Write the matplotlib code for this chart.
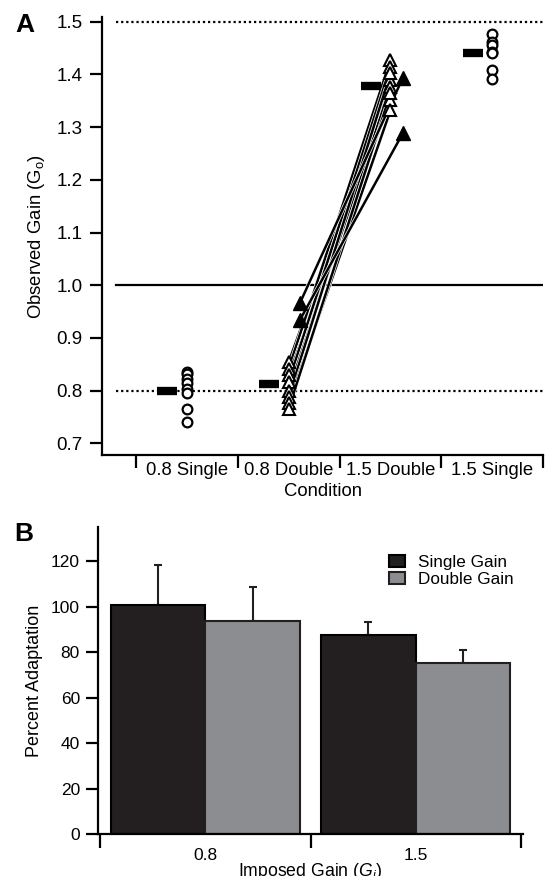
import numpy as np
import matplotlib
matplotlib.use('Agg')
import matplotlib.pyplot as plt
import matplotlib.patheffects as pe
from matplotlib.ticker import FixedLocator, NullFormatter

plt.rcParams['font.family'] = ['Liberation Sans', 'DejaVu Sans']
plt.rcParams['mathtext.fontset'] = 'custom'
plt.rcParams['mathtext.rm'] = 'Liberation Sans'
plt.rcParams['mathtext.it'] = 'Liberation Sans:italic'

# ---- panel A data ----
conditions = ['0.8 Single', '0.8 Double', '1.5 Double', '1.5 Single']
single08 = [0.835, 0.831, 0.823, 0.814, 0.804, 0.795, 0.765, 0.741]
single15 = [1.477, 1.462, 1.455, 1.443, 1.440, 1.408, 1.392]
# open triangles: 0.8 double -> 1.5 double, paired per subject
dbl08_open = [0.854, 0.842, 0.829, 0.817, 0.800, 0.788, 0.776, 0.766]
dbl15_open = [1.389, 1.427, 1.351, 1.414, 1.376, 1.402, 1.332, 1.364]
# filled triangles
dbl08_fill = [0.966, 0.934]
dbl15_fill = [1.393, 1.288]
cond_means = [0.799, 0.813, 1.378, 1.440]

# ---- panel B data ----
gains = ['0.8', '1.5']
single_pct = [100.8, 87.6]
single_err = [17.6, 5.8]
double_pct = [93.8, 75.3]
double_err = [14.8, 5.9]

fig = plt.figure(figsize=(5.6, 8.76), dpi=100)

# =================== A ===================
ax = fig.add_axes([0.182, 0.4806, 0.788, 0.5])
xpos = np.arange(len(conditions))
ax.set_xlim(-0.834, 3.5)
ax.set_ylim(0.678, 1.509)

ax.plot([-0.7, 3.5], [1.0, 1.0], color='black', lw=1.6, zorder=1)
ax.plot([-0.7, 3.5], [0.8, 0.8], color='black', lw=1.6, ls=(0, (1, 1.3)), zorder=1)
ax.plot([-0.7, 3.5], [1.5, 1.5], color='black', lw=1.6, ls=(0, (1, 1.3)), zorder=1)

# connecting lines
stroke = [pe.withStroke(linewidth=2.8, foreground='white')]
for a, b in zip(dbl08_open, dbl15_open):
    ax.plot([xpos[1], xpos[2]], [a, b], color='black', lw=1.8, zorder=2,
            path_effects=stroke)
for a, b in zip(dbl08_fill, dbl15_fill):
    ax.plot([xpos[1] + 0.11, xpos[2] + 0.12], [a, b], color='black', lw=1.8,
            zorder=2, path_effects=stroke)

ax.plot([xpos[0]] * len(single08), single08, 'o', mfc='white', mec='black',
        mew=1.6, ms=7, ls='none', zorder=4)
ax.plot([xpos[3]] * len(single15), single15, 'o', mfc='white', mec='black',
        mew=1.6, ms=7, ls='none', zorder=4)
ax.plot([xpos[1]] * len(dbl08_open), dbl08_open, '^', mfc='white', mec='black',
        mew=1.5, ms=8, ls='none', zorder=4)
ax.plot([xpos[2]] * len(dbl15_open), dbl15_open, '^', mfc='white', mec='black',
        mew=1.5, ms=8, ls='none', zorder=4)
ax.plot([xpos[1] + 0.11] * len(dbl08_fill), dbl08_fill, '^', color='black',
        ms=9.5, ls='none', zorder=4)
ax.plot([xpos[2] + 0.12] * len(dbl15_fill), dbl15_fill, '^', color='black',
        ms=9.5, ls='none', zorder=4)

# mean dashes
ax.hlines(cond_means, xpos - 0.29, xpos - 0.095, color='black', lw=6, zorder=3)

for s in ['top', 'right']:
    ax.spines[s].set_visible(False)
for s in ['left', 'bottom']:
    ax.spines[s].set_linewidth(1.6)
ax.set_yticks(np.arange(0.7, 1.51, 0.1))
ax.set_yticklabels(['%.1f' % v for v in np.arange(0.7, 1.51, 0.1)])
ax.tick_params(axis='y', length=9, width=1.6, pad=5, labelsize=13.5)
ax.xaxis.set_major_locator(FixedLocator([-0.5, 0.5, 1.5, 2.5, 3.5]))
ax.xaxis.set_major_formatter(NullFormatter())
ax.xaxis.set_minor_locator(FixedLocator(xpos))
ax.set_xticklabels(conditions, minor=True)
ax.tick_params(axis='x', which='major', length=9, width=1.6)
ax.tick_params(axis='x', which='minor', length=0, pad=5, labelsize=13.3)
ax.set_xlabel('Condition', fontsize=13.3, labelpad=3)
ax.set_ylabel(r'Observed Gain ($\mathregular{G_o}$)', fontsize=13.3, labelpad=7)
fig.text(0.028, 0.972, 'A', fontsize=19, fontweight='bold', va='center')

# =================== B ===================
bx = fig.add_axes([0.175, 0.048, 0.759, 0.35])
gx = np.arange(len(gains))
w = 0.45
bx.bar(gx - w, single_pct, w, align='edge', color='#231f20', edgecolor='black',
       lw=1.5, label='Single Gain', zorder=2)
bx.bar(gx, double_pct, w, align='edge', color='#8c8d90', edgecolor='#231f20',
       lw=1.5, label='Double Gain', zorder=2)
bx.errorbar(gx - w / 2, single_pct, yerr=[[0] * len(gx), single_err], fmt='none',
            ecolor='#231f20', elinewidth=1.5, capsize=3, capthick=1.5, zorder=1)
bx.errorbar(gx + w / 2, double_pct, yerr=[[0] * len(gx), double_err], fmt='none',
            ecolor='#231f20', elinewidth=1.5, capsize=3, capthick=1.5, zorder=1)

bx.set_xlim(-0.51, 1.51)
bx.set_ylim(0, 135)
for s in ['top', 'right']:
    bx.spines[s].set_visible(False)
for s in ['left', 'bottom']:
    bx.spines[s].set_linewidth(1.6)
bx.set_yticks(np.arange(0, 121, 20))
bx.tick_params(axis='y', length=9, width=1.6, pad=4, labelsize=12.5)
bx.xaxis.set_major_locator(FixedLocator([-0.5, 0.5, 1.5]))
bx.xaxis.set_major_formatter(NullFormatter())
bx.xaxis.set_minor_locator(FixedLocator(gx))
bx.set_xticklabels(gains, minor=True)
bx.tick_params(axis='x', which='major', length=10, width=1.6)
bx.tick_params(axis='x', which='minor', length=0, pad=10, labelsize=12.5)
bx.set_xlabel(r'Imposed Gain ($G_i$)', fontsize=12.7, labelpad=-1)
bx.set_ylabel('Percent Adaptation', fontsize=13, labelpad=6)
bx.legend(loc='upper right', bbox_to_anchor=(1.015, 0.96), frameon=False,
          fontsize=12.3, handlelength=0.9, handleheight=0.7, handletextpad=0.8,
          labelspacing=0.1)
fig.text(0.025, 0.39, 'B', fontsize=19, fontweight='bold', va='center')

fig.savefig('out.png', dpi=100)
